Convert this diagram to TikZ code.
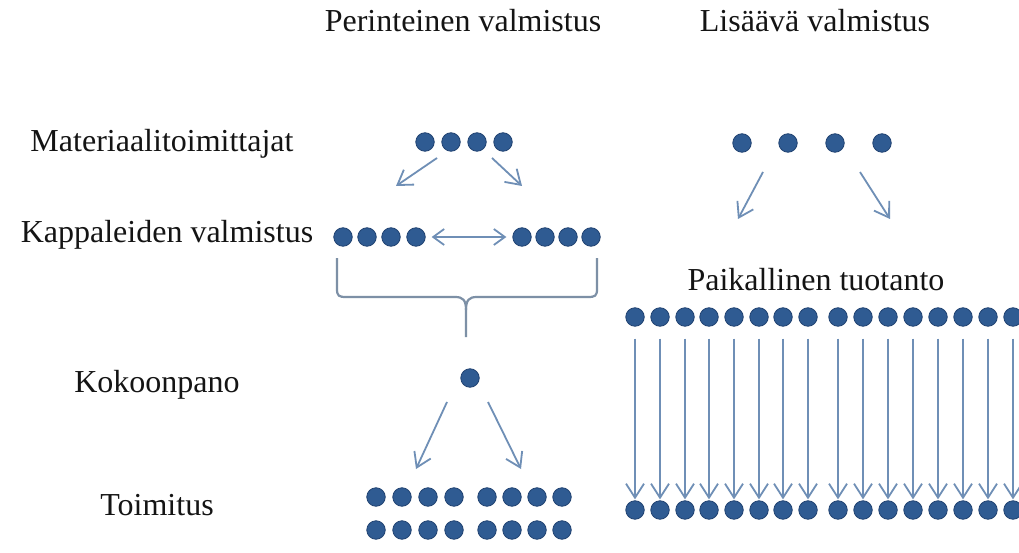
\documentclass[tikz,border=0pt]{standalone}
\usepackage{fontspec}
\setmainfont{Liberation Serif}
\usetikzlibrary{arrows.meta}
\definecolor{dotblue}{HTML}{2F5B92}
\definecolor{dotedge}{HTML}{1F4170}
\definecolor{arrblue}{HTML}{6F8FB6}
\definecolor{bracegray}{HTML}{7D90A6}
\tikzset{
  dot/.style={circle,fill=dotblue,draw=dotedge,line width=0.8pt,minimum size=18.5pt,inner sep=0pt},
  arr/.style={draw=arrblue,line width=1.8pt,-{Straight Barb[length=14pt,width=18pt,line width=1.8pt]}},
  darr/.style={draw=arrblue,line width=1.8pt,{Straight Barb[length=11pt,width=16pt,line width=1.8pt]}-{Straight Barb[length=11pt,width=16pt,line width=1.8pt]}},
  bracepath/.style={draw=bracegray,line width=2.2pt},
  lbl/.style={font=\fontsize{32}{38}\selectfont,text=black!92,anchor=base,inner sep=0pt}
}
\begin{document}
\begin{tikzpicture}[x=1pt,y=-1pt]
\useasboundingbox (0,0) rectangle (1019,553);
\fill[white] (0,0) rectangle (1019,553);
% labels
\node[lbl] (hA) at (463,32) {Perinteinen valmistus};
\node[lbl] (hB) at (815,32) {Lisäävä valmistus};
\node[lbl] (l1) at (162,152) {Materiaalitoimittajat};
\node[lbl] (l2) at (167,243) {Kappaleiden valmistus};
\node[lbl] (l3) at (157,392) {Kokoonpano};
\node[lbl] (l4) at (157,515) {Toimitus};
\node[lbl] (l5) at (816,290) {Paikallinen tuotanto};
% traditional: suppliers
\foreach \x [count=\i] in {425,451,477,503} \node[dot] (s\i) at (\x,142) {};
\coordinate (sa1) at (437,158); \coordinate (sb1) at (396,186);
\coordinate (sa2) at (492,158); \coordinate (sb2) at (522,186);
\draw[arr] (sa1) -- (sb1);
\draw[arr] (sa2) -- (sb2);
% part manufacturing
\foreach \x [count=\i] in {343,367,391,416} \node[dot] (pl\i) at (\x,237) {};
\foreach \x [count=\i] in {522,545,568,591} \node[dot] (pr\i) at (\x,237) {};
\draw[darr] ([xshift=6pt]pl4.east) -- ([xshift=-6pt]pr1.west);
% brace
\coordinate (bl) at (337,258); \coordinate (br) at (597,258); \coordinate (bt) at (466,337);
\draw[bracepath] (bl) -- (337,289) .. controls (337,296) and (339,297) .. (346,297) -- (455,297) .. controls (463,297) and (466,300) .. (466,310) -- (bt);
\draw[bracepath] (br) -- (597,289) .. controls (597,296) and (595,297) .. (588,297) -- (477,297) .. controls (469,297) and (466,300) .. (466,310);
% assembly
\node[dot] (k) at (470,378) {};
\coordinate (ka1) at (447,402); \coordinate (kb1) at (416,469);
\coordinate (ka2) at (488,402); \coordinate (kb2) at (521,469);
\draw[arr] (ka1) -- (kb1);
\draw[arr] (ka2) -- (kb2);
% delivery
\foreach \x [count=\i] in {376,402,428,454,487,512,537,562} {
  \node[dot] (da\i) at (\x,497) {};
  \node[dot] (db\i) at (\x,530) {};
}
% additive: suppliers
\foreach \x [count=\i] in {742,788,835,882} \node[dot] (m\i) at (\x,143) {};
\coordinate (ma1) at (763,172); \coordinate (mb1) at (738,219);
\coordinate (ma2) at (860,172); \coordinate (mb2) at (890,219);
\draw[arr] (ma1) -- (mb1);
\draw[arr] (ma2) -- (mb2);
% local production
\foreach \x [count=\i] in {635,660,685,709,734,759,783,808,838,863,888,913,938,963,988,1013} {
  \node[dot] (t\i) at (\x,317) {};
  \node[dot] (b\i) at (\x,510) {};
  \draw[arr,shorten <=12pt,shorten >=1pt] (t\i) -- (b\i);
}
\end{tikzpicture}
\end{document}
